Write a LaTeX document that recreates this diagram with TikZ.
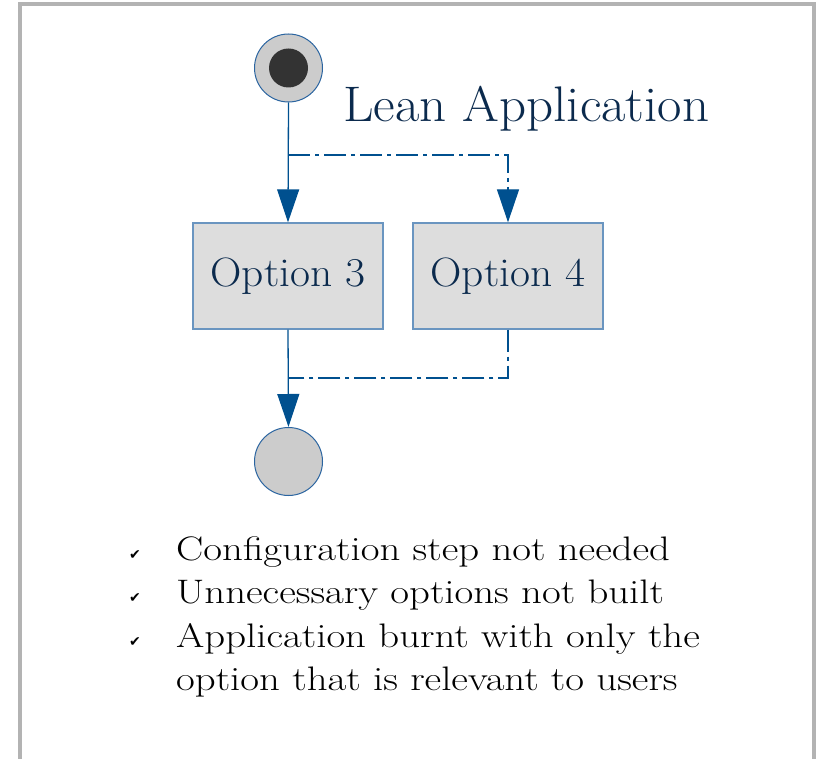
\documentclass[tikz,border=0pt]{standalone}
\usepackage{fontspec}
\usetikzlibrary{arrows.meta}
\newfontfamily\symfont{DejaVu Sans}
\newfontfamily\headfont{Latin Modern Roman}[FakeStretch=1.06]
\newfontfamily\listfont{Latin Modern Roman}[FakeStretch=1.2]
\definecolor{framegray}{HTML}{B3B3B3}
\definecolor{flowblue}{HTML}{00508F}
\definecolor{edgeblue}{HTML}{2A64A0}
\definecolor{boxedge}{HTML}{6A95C0}
\definecolor{boxfill}{HTML}{DDDDDD}
\definecolor{discfill}{HTML}{CCCCCC}
\definecolor{navy}{HTML}{0B2A4D}
\tikzset{
  x=1pt, y=-1pt,
  optbox/.style={draw=boxedge, line width=1.3pt, fill=boxfill, minimum width=190pt,
    minimum height=106pt, inner sep=0pt, text=navy, font=\headfont\fontsize{41}{41}\selectfont},
  disc/.style={circle, draw=edgeblue, line width=1pt, fill=discfill, minimum size=68pt, inner sep=0pt},
  flow/.style={draw=flowblue, line width=1.3pt, -{Triangle[length=33pt,width=22pt]}},
  flowplain/.style={draw=flowblue, line width=1.3pt},
  alt/.style={flowplain, dash pattern=on 22pt off 5pt on 4pt off 5pt},
  bullet/.style={anchor=base west, inner sep=0pt, font=\listfont\fontsize{34}{34}\selectfont},
  tick/.style={anchor=base west, inner sep=0pt, font=\symfont\fontsize{14}{14}\selectfont},
}
\begin{document}
\begin{tikzpicture}
\useasboundingbox (0,0) rectangle (819,759);
% open frame around the slide
\draw[framegray, line width=4pt] (20,760) -- (20,4) -- (814,4) -- (814,760);

% start and end states
\node[disc] (start) at (288.5,68) {};
\fill[fill=black!80] (start.center) circle (19.5pt);
\node[disc] (stop) at (288.5,461.5) {};

% options
\node[optbox] (o3) at (288,276) {Option 3};
\node[optbox] (o4) at (508,276) {Option 4};

% title
\node[anchor=base west, inner sep=0pt, text=navy, font=\headfont\fontsize{50}{50}\selectfont] (title) at (343,122) {Lean Application};

% branch and merge points
\coordinate (split) at (288,155);
\coordinate (alttip) at (508,190);
\coordinate (merge) at (288,378);

% flows
\draw[flow] (start.south) -- (o3.north);
\draw[alt] (split) -| (alttip);
\draw[flow] (alttip) -- (o4.north);
\draw[flow] (o3.south) -- (stop.north);
\draw[alt] (o4.south) |- (merge);

% benefits
\node[tick] (c1) at (129,559) {✔};
\node[tick] (c2) at (129,602.5) {✔};
\node[tick] (c3) at (129,646) {✔};
\node[bullet] (b1) at (176,560) {Configuration step not needed};
\node[bullet] (b2) at (176,603.5) {Unnecessary options not built};
\node[bullet] (b3) at (176,647) {Application burnt with only the};
\node[bullet] (b4) at (176,690.5) {option that is relevant to users};
\end{tikzpicture}
\end{document}
